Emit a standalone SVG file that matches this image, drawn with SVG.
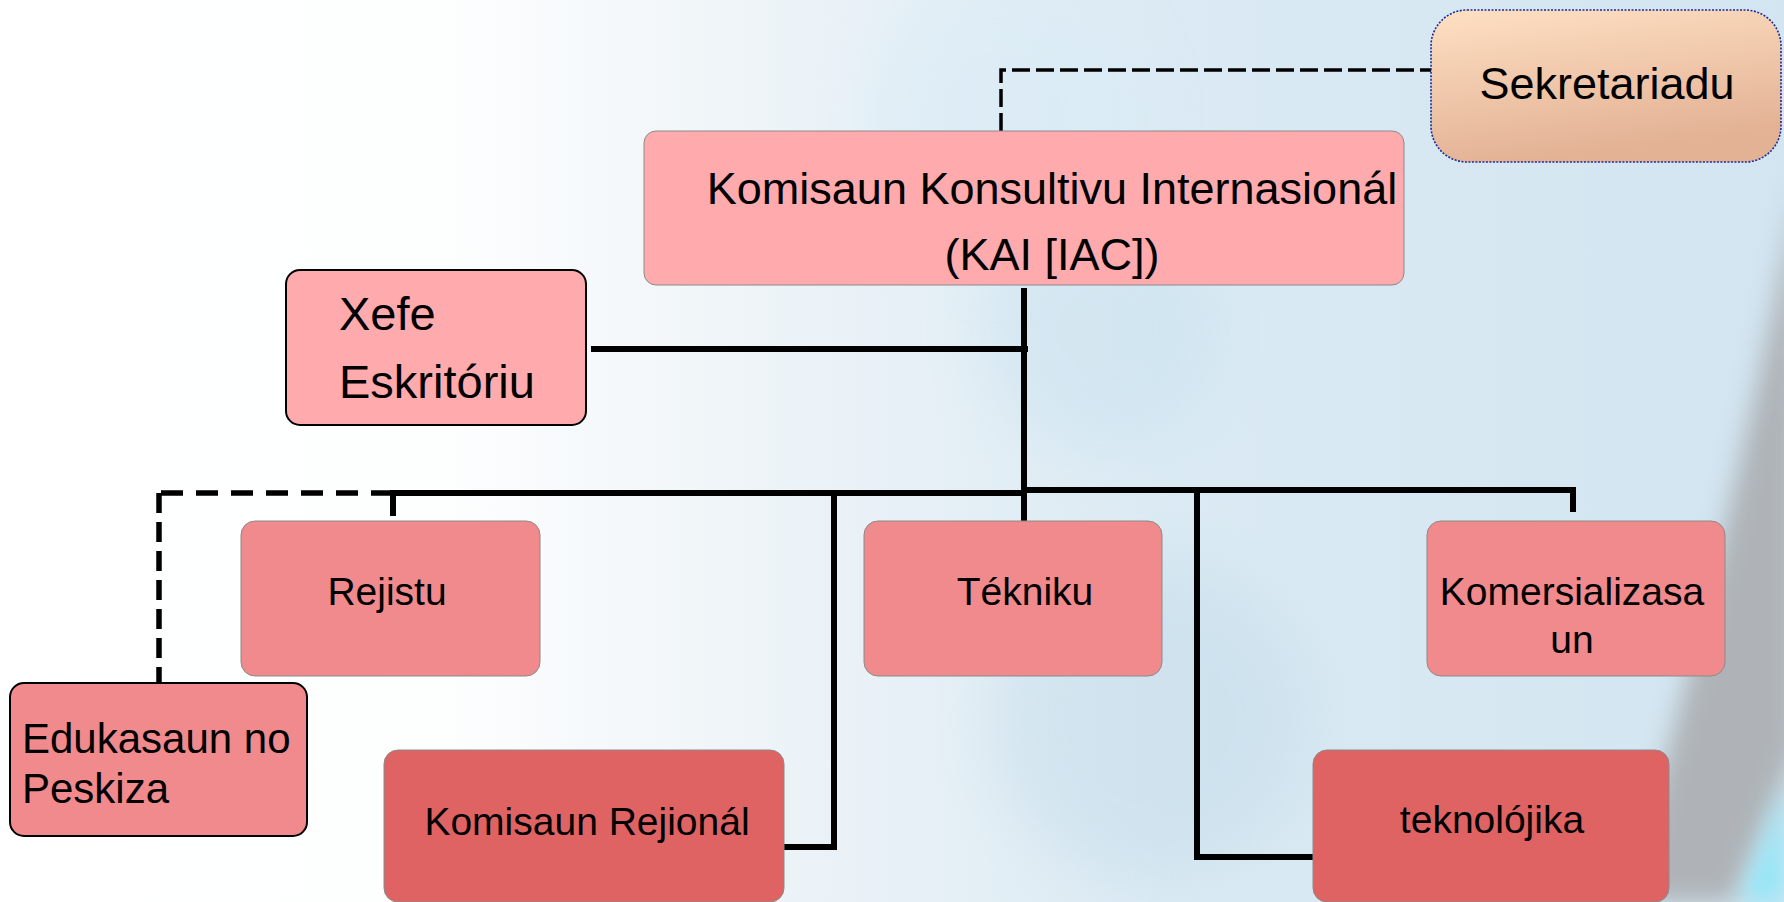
<svg xmlns="http://www.w3.org/2000/svg" width="1784" height="902" viewBox="0 0 1784 902">
<defs>
<style>
.t{font-family:"Liberation Sans",Arial,sans-serif;fill:#000}
.light{fill:#FFAAAD;stroke:#8a8a8a;stroke-width:1}
.mid{fill:#F08A8C;stroke:#8a8a8a;stroke-width:1}
.dark{fill:#DF6363;stroke:#8a8a8a;stroke-width:1}
.blk{stroke:#000;stroke-width:2}
.ln{fill:none;stroke:#000;stroke-width:6}
.dash{fill:none;stroke:#000;stroke-width:5.5;stroke-dasharray:22 13}
.dash2{fill:none;stroke:#000;stroke-width:3.5;stroke-dasharray:18 6}
</style>
<linearGradient id="bg" x1="0" y1="0" x2="1" y2="0">
<stop offset="0" stop-color="#ffffff"/>
<stop offset="0.25" stop-color="#fdfefe"/>
<stop offset="0.42" stop-color="#eef4f8"/>
<stop offset="0.65" stop-color="#dbeaf3"/>
<stop offset="1" stop-color="#d2e5f1"/>
</linearGradient>
<linearGradient id="sek" x1="0" y1="0" x2="0.3" y2="1">
<stop offset="0" stop-color="#FEE0C3"/>
<stop offset="1" stop-color="#E3B194"/>
</linearGradient>
<filter id="blur" x="-30%" y="-30%" width="160%" height="160%"><feGaussianBlur stdDeviation="30"/></filter>
<filter id="blur2" x="-30%" y="-30%" width="160%" height="160%"><feGaussianBlur stdDeviation="12"/></filter>
</defs>
<g id="background">
<rect width="1784" height="902" fill="url(#bg)"/>
<circle cx="1100" cy="330" r="120" fill="#bfdeee" opacity="0.35" filter="url(#blur)"/>
<circle cx="1150" cy="720" r="160" fill="#b4d3e4" opacity="0.3" filter="url(#blur)"/>
<circle cx="1000" cy="120" r="140" fill="#d8ebf6" opacity="0.5" filter="url(#blur)"/>
<path d="M1800,180 Q1725,560 1625,902 L1735,902 Q1770,820 1800,740 Z" fill="#a9abad" opacity="0.85" filter="url(#blur2)"/>
<path d="M1740,902 Q1772,830 1784,780 L1784,902 Z" fill="#8fe6f8" filter="url(#blur2)"/>
</g>
<g id="connectors">
<polyline class="dash2" points="1001,131 1001,70 1431,70"/>
<line class="ln" x1="1024" y1="288" x2="1024" y2="521"/>
<line class="ln" x1="591" y1="349" x2="1028" y2="349"/>
<polyline class="ln" points="393,516 393,493 1024,493"/>
<polyline class="ln" points="1024,490 1573,490 1573,512"/>
<polyline class="ln" points="834,493 834,847 784,847"/>
<polyline class="ln" points="1197,490 1197,857 1313,857"/>
<line class="dash" x1="393" y1="493" x2="159" y2="493"/>
<line class="dash" x1="159" y1="493" x2="159" y2="682" style="stroke-dasharray:20 9"/>
</g>
<g id="node-sekretariadu">
<rect x="1431" y="10" width="350" height="152" rx="36" fill="url(#sek)" stroke="#1a2a9a" stroke-width="1.6" stroke-dasharray="2 1.5"/>
<text class="t" x="1607" y="99" font-size="45" text-anchor="middle">Sekretariadu</text>
</g>
<g id="node-kai">
<rect class="light" x="644" y="131" width="760" height="154" rx="12"/>
<text class="t" x="1052" y="204" font-size="45" text-anchor="middle">Komisaun Konsultivu Internasionál</text>
<text class="t" x="1052" y="270" font-size="45" text-anchor="middle">(KAI [IAC])</text>
</g>
<g id="node-xefe">
<rect class="light blk" x="286" y="270" width="300" height="155" rx="14"/>
<text class="t" x="339" y="330" font-size="47">Xefe</text>
<text class="t" x="339" y="398" font-size="47">Eskritóriu</text>
</g>
<g id="node-rejistu">
<rect class="mid" x="241" y="521" width="299" height="155" rx="14"/>
<text class="t" x="387" y="605" font-size="39" text-anchor="middle">Rejistu</text>
</g>
<g id="node-tekniku">
<rect class="mid" x="864" y="521" width="298" height="155" rx="14"/>
<text class="t" x="1025" y="605" font-size="39" text-anchor="middle">Tékniku</text>
</g>
<g id="node-komersializasaun">
<rect class="mid" x="1427" y="521" width="298" height="155" rx="14"/>
<text class="t" x="1572" y="605" font-size="39" text-anchor="middle">Komersializasa</text>
<text class="t" x="1572" y="653" font-size="39" text-anchor="middle">un</text>
</g>
<g id="node-edukasaun">
<rect class="mid blk" x="10" y="683" width="297" height="153" rx="14"/>
<text class="t" x="22" y="753" font-size="42">Edukasaun no</text>
<text class="t" x="22" y="803" font-size="42">Peskiza</text>
</g>
<g id="node-komisaun-rejional">
<rect class="dark" x="384" y="750" width="400" height="152" rx="14"/>
<text class="t" x="587" y="835" font-size="39" text-anchor="middle">Komisaun Rejionál</text>
</g>
<g id="node-teknolojika">
<rect class="dark" x="1313" y="750" width="356" height="152" rx="14"/>
<text class="t" x="1492" y="833" font-size="39" text-anchor="middle">teknolójika</text>
</g>
</svg>
